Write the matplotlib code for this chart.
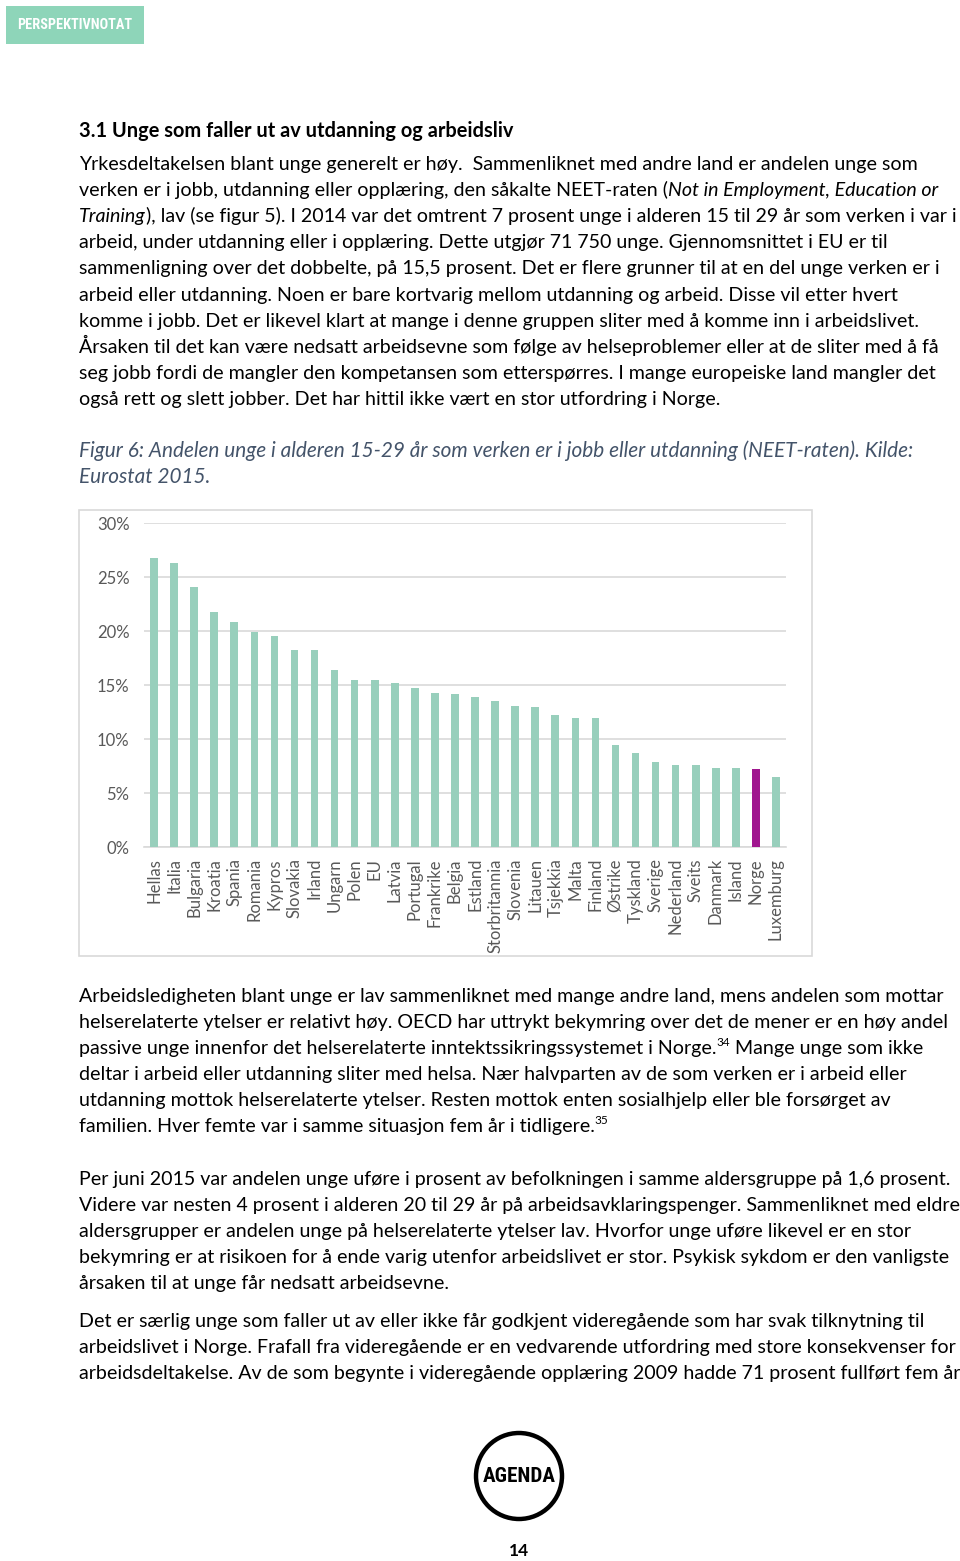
import matplotlib
matplotlib.use("Agg")
import matplotlib.pyplot as plt
from matplotlib.patches import Rectangle, Circle

# ---------------- data ----------------
countries = ["Hellas", "Italia", "Bulgaria", "Kroatia", "Spania", "Romania", "Kypros",
             "Slovakia", "Irland", "Ungarn", "Polen", "EU", "Latvia", "Portugal",
             "Frankrike", "Belgia", "Estland", "Storbritannia", "Slovenia", "Litauen",
             "Tsjekkia", "Malta", "Finland", "Østrike", "Tyskland", "Sverige",
             "Nederland", "Sveits", "Danmark", "Island", "Norge", "Luxemburg"]
neet_rate = [26.8, 26.3, 24.1, 21.8, 20.8, 19.9, 19.5, 18.2, 18.2, 16.4, 15.5, 15.5,
             15.2, 14.7, 14.3, 14.2, 13.9, 13.5, 13.1, 13.0, 12.2, 11.9, 11.9, 9.4,
             8.7, 7.9, 7.6, 7.6, 7.3, 7.3, 7.2, 6.5]
highlight = "Norge"
y_ticks = [0, 5, 10, 15, 20, 25, 30]
y_tick_labels = ["0%", "5%", "10%", "15%", "20%", "25%", "30%"]

heading = "3.1 Unge som faller ut av utdanning og arbeidsliv"
para1 = [
    [("Yrkesdeltakelsen blant unge generelt er høy.  Sammenliknet med andre land er andelen unge som", "normal")],
    [("verken er i jobb, utdanning eller opplæring, den såkalte NEET-raten (", "normal"),
     ("Not in Employment, Education or", "italic")],
    [("Training", "italic"),
     ("), lav (se figur 5). I 2014 var det omtrent 7 prosent unge i alderen 15 til 29 år som verken i var i", "normal")],
    [("arbeid, under utdanning eller i opplæring. Dette utgjør 71 750 unge. Gjennomsnittet i EU er til", "normal")],
    [("sammenligning over det dobbelte, på 15,5 prosent. Det er flere grunner til at en del unge verken er i", "normal")],
    [("arbeid eller utdanning. Noen er bare kortvarig mellom utdanning og arbeid. Disse vil etter hvert", "normal")],
    [("komme i jobb. Det er likevel klart at mange i denne gruppen sliter med å komme inn i arbeidslivet.", "normal")],
    [("Årsaken til det kan være nedsatt arbeidsevne som følge av helseproblemer eller at de sliter med å få", "normal")],
    [("seg jobb fordi de mangler den kompetansen som etterspørres. I mange europeiske land mangler det", "normal")],
    [("også rett og slett jobber. Det har hittil ikke vært en stor utfordring i Norge.", "normal")],
]
caption = ["Figur 6: Andelen unge i alderen 15-29 år som verken er i jobb eller utdanning (NEET-raten). Kilde:",
           "Eurostat 2015."]
para2 = [
    [("Arbeidsledigheten blant unge er lav sammenliknet med mange andre land, mens andelen som mottar", "normal")],
    [("helserelaterte ytelser er relativt høy. OECD har uttrykt bekymring over det de mener er en høy andel", "normal")],
    [("passive unge innenfor det helserelaterte inntektssikringssystemet i Norge.", "normal"), ("34", "sup"),
     (" Mange unge som ikke", "normal")],
    [("deltar i arbeid eller utdanning sliter med helsa. Nær halvparten av de som verken er i arbeid eller", "normal")],
    [("utdanning mottok helserelaterte ytelser. Resten mottok enten sosialhjelp eller ble forsørget av", "normal")],
    [("familien. Hver femte var i samme situasjon fem år i tidligere.", "normal"), ("35", "sup")],
]
para3 = [
    [("Per juni 2015 var andelen unge uføre i prosent av befolkningen i samme aldersgruppe på 1,6 prosent.", "normal")],
    [("Videre var nesten 4 prosent i alderen 20 til 29 år på arbeidsavklaringspenger. Sammenliknet med eldre", "normal")],
    [("aldersgrupper er andelen unge på helserelaterte ytelser lav. Hvorfor unge uføre likevel er en stor", "normal")],
    [("bekymring er at risikoen for å ende varig utenfor arbeidslivet er stor. Psykisk sykdom er den vanligste", "normal")],
    [("årsaken til at unge får nedsatt arbeidsevne.", "normal")],
]
para4 = [
    [("Det er særlig unge som faller ut av eller ikke får godkjent videregående som har svak tilknytning til", "normal")],
    [("arbeidslivet i Norge. Frafall fra videregående er en vedvarende utfordring med store konsekvenser for", "normal")],
    [("arbeidsdeltakelse. Av de som begynte i videregående opplæring 2009 hadde 71 prosent fullført fem år", "normal")],
]

# ---------------- page setup ----------------
W, H = 960, 1561
DPI = 100
fig = plt.figure(figsize=(W / DPI, H / DPI), dpi=DPI)
fig.patch.set_facecolor("white")
renderer = fig.canvas.get_renderer()

# full-page overlay in pixel coordinates (y downwards)
page = fig.add_axes([0, 0, 1, 1])
page.set_xlim(0, W)
page.set_ylim(H, 0)
page.axis("off")

FAM = ["Lato", "DejaVu Sans"]
NARROW = ["Liberation Sans Narrow", "Roboto Condensed", "DejaVu Sans"]
BAR = "#98cfbc"
HIGHLIGHT = "#a0168f"
GRID = "#d9d9d9"
TICK = "#595959"
CAPTION = "#44546a"


def text_width(s, size, weight="normal", style="normal", family=FAM):
    t = fig.text(0, 0, s, fontsize=size, fontweight=weight, fontstyle=style, family=family)
    w = t.get_window_extent(renderer).width
    t.remove()
    return w


def fit_size(s, target, weight="normal", style="normal", family=FAM):
    w = text_width(s, 10, weight, style, family)
    return 10 * target / w


BODY = fit_size(para1[0][0][0], 839)
HEAD = fit_size(heading, 434, weight="bold")
CAP = fit_size(caption[0], 834, style="italic")
BADGE = fit_size("PERSPEKTIVNOTAT", 115, weight="bold", family=NARROW)
LOGO = fit_size("AGENDA", 72, weight="bold", family=NARROW)


def put_line(segments, x, y, size, color="black"):
    cur = x
    for s, st in segments:
        if st == "sup":
            t = page.text(cur, y - size * 0.55, s, fontsize=size * 0.6, family=FAM,
                          color=color, va="baseline", ha="left")
        else:
            style = "italic" if st == "italic" else "normal"
            t = page.text(cur, y, s, fontsize=size, family=FAM, fontstyle=style,
                          color=color, va="baseline", ha="left")
        cur += t.get_window_extent(renderer).width


# header badge
page.add_patch(Rectangle((6, 6), 138, 38, facecolor="#8ed5b9", edgecolor="none"))
page.text(75, 25, "PERSPEKTIVNOTAT", fontsize=BADGE, fontweight="bold", color="white",
          family=NARROW, ha="center", va="center")

# heading
page.text(79, 137, heading, fontsize=HEAD, fontweight="bold", family=FAM, va="baseline")

X0 = 79
for i, line in enumerate(para1):
    put_line(line, X0, 170 + 26.1 * i, BODY)
for i, line in enumerate(caption):
    page.text(X0, 457 + 26 * i, line, fontsize=CAP, fontstyle="italic", family=FAM,
              color=CAPTION, va="baseline")
for i, line in enumerate(para2):
    put_line(line, X0, 1002 + 26 * i, BODY)
for i, line in enumerate(para3):
    put_line(line, X0, 1185 + 26 * i, BODY)
for i, line in enumerate(para4):
    put_line(line, X0, 1327 + 26 * i, BODY)

# chart frame
page.add_patch(Rectangle((79, 510), 733, 446, facecolor="none", edgecolor=GRID, linewidth=1.2))

# ---------------- chart ----------------
ax = fig.add_axes([144 / W, 1 - 847 / H, 642 / W, (847 - 523) / H])
xs = list(range(len(countries)))
colors = [HIGHLIGHT if c == highlight else BAR for c in countries]
ax.bar(xs, neet_rate, width=0.38, color=colors, zorder=3)
ax.set_xlim(-0.5, len(countries) - 0.5)
ax.set_ylim(0, 30)
ax.set_yticks(y_ticks)
ax.set_yticklabels(y_tick_labels)
ax.set_xticks(xs)
ax.set_xticklabels(countries, rotation=90, ha="center", va="top")
for lab in ax.get_xticklabels() + ax.get_yticklabels():
    lab.set_family(FAM)
    lab.set_fontsize(12)
    lab.set_color(TICK)
ax.tick_params(axis="both", length=0)
ax.tick_params(axis="y", pad=10.5)
ax.tick_params(axis="x", pad=8)
ax.grid(axis="y", color=GRID, linewidth=1.2, zorder=0)
for side in ["left", "right", "top"]:
    ax.spines[side].set_visible(False)
ax.spines["bottom"].set_color(GRID)
ax.spines["bottom"].set_linewidth(1.2)
ax.set_facecolor("none")

# ---------------- logo & page number ----------------
page.add_patch(Circle((519, 1476), 43, facecolor="none", edgecolor="black", linewidth=3.2))
page.text(519, 1477, "AGENDA", fontsize=LOGO, fontweight="bold", family=NARROW,
          ha="center", va="center")
page.text(519, 1551, "14", fontsize=12.5, fontweight="bold", family=FAM, ha="center", va="center")

fig.savefig("out.png", dpi=DPI)
